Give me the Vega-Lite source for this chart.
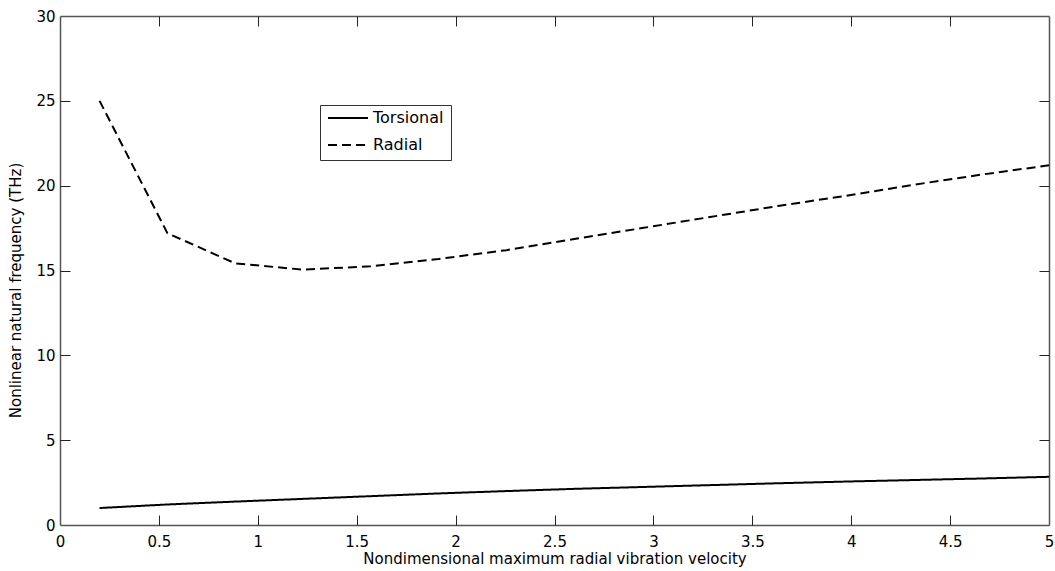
{
  "$schema": "https://vega.github.io/schema/vega-lite/v6.json",
  "width": 989,
  "height": 509,
  "autosize": {"type": "none"},
  "padding": {"left": 60, "top": 16, "right": 6, "bottom": 46},
  "background": "white",
  "config": {
    "view": {"stroke": null},
    "font": "DejaVu Sans",
    "axis": {
      "grid": false,
      "tickColor": "#222",
      "tickWidth": 1,
      "domainColor": "#555",
      "domainWidth": 1.5,
      "labelFont": "DejaVu Sans",
      "labelFontSize": 15,
      "labelColor": "black",
      "titleFont": "DejaVu Sans",
      "titleFontSize": 15,
      "titleFontWeight": "normal",
      "titleColor": "black"
    }
  },
  "data": {
    "values": [
      {"x": 0.2, "y": 1.0, "series": "Torsional"},
      {"x": 0.543, "y": 1.21, "series": "Torsional"},
      {"x": 0.886, "y": 1.38, "series": "Torsional"},
      {"x": 1.229, "y": 1.54, "series": "Torsional"},
      {"x": 1.571, "y": 1.7, "series": "Torsional"},
      {"x": 1.914, "y": 1.86, "series": "Torsional"},
      {"x": 2.257, "y": 2.0, "series": "Torsional"},
      {"x": 2.6, "y": 2.13, "series": "Torsional"},
      {"x": 2.943, "y": 2.24, "series": "Torsional"},
      {"x": 3.286, "y": 2.35, "series": "Torsional"},
      {"x": 3.629, "y": 2.46, "series": "Torsional"},
      {"x": 3.971, "y": 2.56, "series": "Torsional"},
      {"x": 4.314, "y": 2.65, "series": "Torsional"},
      {"x": 4.657, "y": 2.74, "series": "Torsional"},
      {"x": 5.0, "y": 2.84, "series": "Torsional"},
      {"x": 0.2, "y": 25.0, "series": "Radial"},
      {"x": 0.543, "y": 17.2, "series": "Radial"},
      {"x": 0.886, "y": 15.42, "series": "Radial"},
      {"x": 1.229, "y": 15.05, "series": "Radial"},
      {"x": 1.571, "y": 15.25, "series": "Radial"},
      {"x": 1.914, "y": 15.68, "series": "Radial"},
      {"x": 2.257, "y": 16.2, "series": "Radial"},
      {"x": 2.6, "y": 16.85, "series": "Radial"},
      {"x": 2.943, "y": 17.5, "series": "Radial"},
      {"x": 3.286, "y": 18.15, "series": "Radial"},
      {"x": 3.629, "y": 18.8, "series": "Radial"},
      {"x": 3.971, "y": 19.4, "series": "Radial"},
      {"x": 4.314, "y": 20.05, "series": "Radial"},
      {"x": 4.657, "y": 20.65, "series": "Radial"},
      {"x": 5.0, "y": 21.2, "series": "Radial"}
    ]
  },
  "layer": [
    {
      "mark": {"type": "line", "color": "black", "strokeWidth": 2},
      "encoding": {
        "x": {
          "field": "x", "type": "quantitative",
          "scale": {"domain": [0, 5], "nice": false, "zero": false},
          "axis": {"orient": "bottom", "values": [0, 0.5, 1, 1.5, 2, 2.5, 3, 3.5, 4, 4.5, 5], "format": "~g", "ticks": false, "labelPadding": 9, "labelFlush": false, "title": "Nondimensional maximum radial vibration velocity", "titlePadding": 2}
        },
        "y": {
          "field": "y", "type": "quantitative",
          "scale": {"domain": [0, 30], "nice": false, "zero": true},
          "axis": {"orient": "left", "values": [0, 5, 10, 15, 20, 25, 30], "format": "~g", "ticks": false, "labelPadding": 5, "labelFlush": false, "title": "Nonlinear natural frequency (THz)", "titlePadding": 12, "titleY": 274}
        },
        "strokeDash": {
          "field": "series", "type": "nominal",
          "scale": {"domain": ["Torsional", "Radial"], "range": [[1, 0], [9, 5]]},
          "legend": {
            "orient": "none", "legendX": 260, "legendY": 89,
            "title": null, "symbolType": "stroke", "symbolSize": 1600,
            "symbolStrokeWidth": 2, "symbolStrokeColor": "black",
            "labelFont": "DejaVu Sans", "labelFontSize": 16, "labelColor": "black",
            "strokeColor": "#333", "padding": 7, "rowPadding": 11, "clipHeight": 12,
            "fillColor": "white", "labelOffset": 4
          }
        }
      }
    },
    {
      "mark": {"type": "line", "opacity": 0},
      "encoding": {
        "x": {"field": "x", "type": "quantitative", "axis": {"orient": "top", "ticks": false, "labels": false, "title": null}},
        "y": {"field": "y", "type": "quantitative", "axis": {"orient": "right", "ticks": false, "labels": false, "title": null}}
      }
    },
    {
      "mark": {"type": "line", "opacity": 0},
      "encoding": {
        "x": {"field": "x", "type": "quantitative", "axis": {"orient": "bottom", "offset": -10, "tickSize": 10, "domain": false, "labels": false, "title": null, "values": [0.5, 1, 1.5, 2, 2.5, 3, 3.5, 4, 4.5]}},
        "y": {"field": "y", "type": "quantitative", "axis": {"orient": "left", "offset": -10, "tickSize": 10, "domain": false, "labels": false, "title": null, "values": [5, 10, 15, 20, 25]}}
      }
    },
    {
      "mark": {"type": "line", "opacity": 0},
      "encoding": {
        "x": {"field": "x", "type": "quantitative", "axis": {"orient": "top", "offset": -10, "tickSize": 10, "domain": false, "labels": false, "title": null, "values": [0.5, 1, 1.5, 2, 2.5, 3, 3.5, 4, 4.5]}},
        "y": {"field": "y", "type": "quantitative", "axis": {"orient": "right", "offset": -10, "tickSize": 10, "domain": false, "labels": false, "title": null, "values": [5, 10, 15, 20, 25]}}
      }
    }
  ],
  "resolve": {"axis": {"x": "independent", "y": "independent"}}
}
